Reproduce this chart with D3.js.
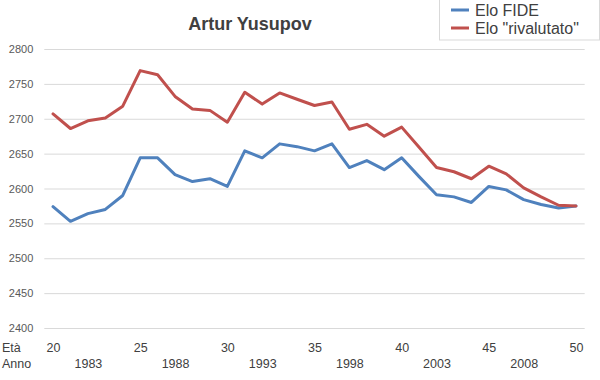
<!DOCTYPE html>
<html>
<head>
<meta charset="utf-8">
<script src="https://cdn.jsdelivr.net/npm/d3@7/dist/d3.min.js"></script>
<style>
  body { margin: 0; background: #fff; }
  svg { display: block; font-family: "Liberation Sans", Arial, sans-serif; }
</style>
</head>
<body>
<svg id="chart" width="600" height="380"></svg>
<script>
const ages = d3.range(20, 51);
const years = ages.map(a => a + 1961);
const eloFide = [2574, 2553, 2564, 2570, 2590, 2644, 2644, 2620, 2610, 2614,
                 2603, 2654, 2644, 2664, 2660, 2654, 2664, 2630, 2640, 2627,
                 2644, 2617, 2591, 2588, 2580, 2603, 2598, 2584, 2577, 2572, 2575];
const eloRival = [2707, 2686, 2697, 2701, 2718, 2769, 2763, 2732, 2714, 2712,
                  2695, 2738, 2721, 2737, 2728, 2719, 2724, 2685, 2692, 2675,
                  2688, 2659, 2630, 2624, 2614, 2632, 2621, 2601, 2588, 2576, 2575];
const yTicks = [2400, 2450, 2500, 2550, 2600, 2650, 2700, 2750, 2800];
const ageTicks = [20, 25, 30, 35, 40, 45, 50];
const yearTicks = [1983, 1988, 1993, 1998, 2003, 2008];
const seriesNames = ["Elo FIDE", "Elo \"rivalutato\""];
const seriesColors = ["#4F81BD", "#C0504D"];
const title = "Artur Yusupov";

const svg = d3.select("#chart");
const pLeft = 44.3, pRight = 584.7, pTop = 49, pBottom = 328;

const x = d3.scalePoint().domain(ages).range([pLeft, pRight]).padding(0.5);
const xYear = d3.scalePoint().domain(years).range([pLeft, pRight]).padding(0.5);
const y = d3.scaleLinear().domain([2400, 2800]).range([pBottom, pTop]);

// grid + y axis
const yAxis = svg.append("g")
  .attr("transform", `translate(${pLeft},0)`)
  .call(d3.axisLeft(y).tickValues(yTicks).tickSizeInner(-(pRight - pLeft)).tickSizeOuter(0).tickPadding(11).tickFormat(d3.format("d")));
yAxis.select(".domain").remove();
yAxis.selectAll(".tick line").attr("stroke", "#d9d9d9").attr("stroke-width", 1);
yAxis.selectAll(".tick text").attr("fill", "#595959").style("font-size", "11px");

// bottom axes
const ageAxis = svg.append("g")
  .attr("transform", `translate(0,340)`)
  .call(d3.axisBottom(x).tickValues(ageTicks).tickSize(0).tickPadding(3));
ageAxis.select(".domain").remove();
ageAxis.selectAll(".tick text").attr("fill", "#404040").style("font-size", "12.5px");

const yearAxis = svg.append("g")
  .attr("transform", `translate(0,356)`)
  .call(d3.axisBottom(xYear).tickValues(yearTicks).tickSize(0).tickPadding(3));
yearAxis.select(".domain").remove();
yearAxis.selectAll(".tick text").attr("fill", "#404040").style("font-size", "12.5px");

svg.append("text").attr("x", 2).attr("y", 352).attr("fill", "#404040")
  .style("font-size", "12.5px").text("Età");
svg.append("text").attr("x", 2).attr("y", 368).attr("fill", "#404040")
  .style("font-size", "12.5px").text("Anno");

// lines
const line = d3.line().x((d, i) => x(ages[i])).y(d => y(d));
[eloFide, eloRival].forEach((s, k) => {
  svg.append("path").datum(s)
    .attr("fill", "none")
    .attr("stroke", seriesColors[k])
    .attr("stroke-width", 3)
    .attr("stroke-linejoin", "round")
    .attr("stroke-linecap", "round")
    .attr("d", line);
});

// title
svg.append("text").attr("x", 250).attr("y", 30).attr("text-anchor", "middle")
  .attr("fill", "#404040").style("font-size", "18px").style("font-weight", "bold")
  .text(title);

// legend
const lg = svg.append("g");
lg.append("rect").attr("x", 439.5).attr("y", -1).attr("width", 160).attr("height", 41)
  .attr("fill", "#fff").attr("stroke", "#d9d9d9");
seriesNames.forEach((n, k) => {
  const yy = 10 + k * 18;
  lg.append("line").attr("x1", 451).attr("x2", 469).attr("y1", yy).attr("y2", yy)
    .attr("stroke", seriesColors[k]).attr("stroke-width", 3);
  lg.append("text").attr("x", 475).attr("y", yy + 6).attr("fill", "#404040")
    .style("font-size", "16px").text(n);
});
</script>
</body>
</html>
